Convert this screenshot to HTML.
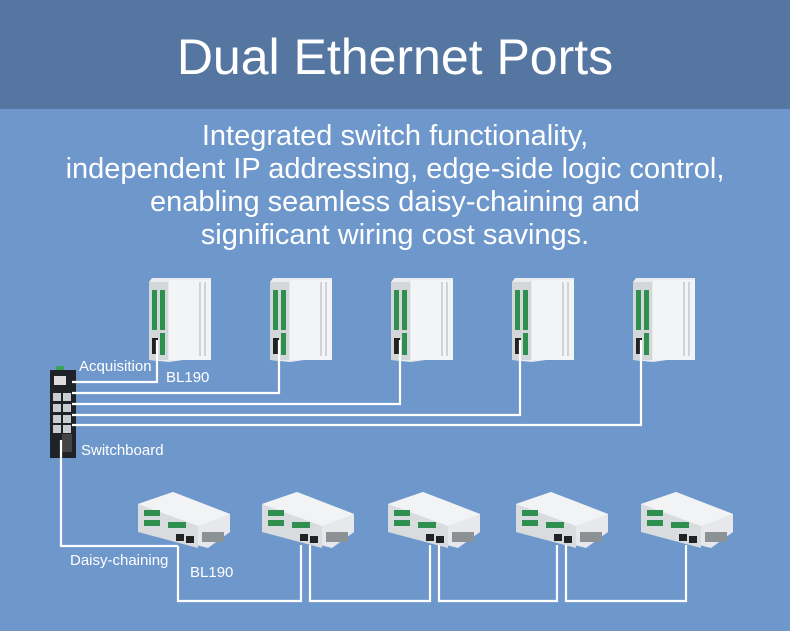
<!DOCTYPE html>
<html><head><meta charset="utf-8"><style>
html,body{margin:0;padding:0}
body{width:790px;height:631px;overflow:hidden;background:#6e97cc;position:relative;font-family:"Liberation Sans",sans-serif}
.hdr{position:absolute;left:0;top:0;width:790px;height:109px;background:#5676a2;color:#fff;font-size:50px;text-align:center;line-height:114px}
.sub{position:absolute;left:0;top:120px;width:790px;text-align:center;color:#fff;font-size:29px;line-height:33px}
.lb{position:absolute;color:#fff;font-size:15px}
svg{position:absolute;left:0;top:0}
</style></head><body>
<div class="hdr">Dual Ethernet Ports</div>
<div class="sub">Integrated switch functionality,<br>independent IP addressing, edge-side logic control,<br>enabling seamless daisy-chaining and<br>significant wiring cost savings.</div>
<svg width="790" height="631" viewBox="0 0 790 631">
<defs>
<g id="v">
<path d="M0 4 L3 0 L62 0 L62 78 L20 84 L0 82 Z" fill="#e9ebee"/>
<rect x="0" y="4" width="19" height="78" fill="#d4d7da"/>
<rect x="3" y="12" width="5" height="40" fill="#2f8f4f"/>
<rect x="11" y="12" width="5" height="40" fill="#2f8f4f"/>
<rect x="11" y="55" width="5" height="22" fill="#2f8f4f"/>
<rect x="3" y="60" width="6" height="16" fill="#222"/>
<rect x="20" y="2" width="42" height="80" fill="#f3f4f6"/>
<rect x="50" y="4" width="2" height="74" fill="#cfd2d6"/>
<rect x="55" y="4" width="2" height="74" fill="#cfd2d6"/>
</g>
<g id="h">
<path d="M0 12 L35 0 L92 22 L92 40 L70 56 L0 38 Z" fill="#e6e8eb"/>
<path d="M0 12 L35 0 L92 22 L60 34 Z" fill="#f2f3f5"/>
<path d="M0 12 L60 34 L60 56 L0 40 Z" fill="#d9dcdf"/>
<rect x="6" y="18" width="16" height="6" fill="#2f8f4f"/>
<rect x="6" y="28" width="16" height="6" fill="#2f8f4f"/>
<rect x="30" y="30" width="18" height="6" fill="#2f8f4f"/>
<rect x="38" y="42" width="8" height="7" fill="#222"/>
<rect x="48" y="44" width="8" height="7" fill="#222"/>
<rect x="64" y="40" width="22" height="10" fill="#8c9196"/>
</g>
</defs>
<use href="#v" x="149" y="278"/>
<use href="#v" x="270" y="278"/>
<use href="#v" x="391" y="278"/>
<use href="#v" x="512" y="278"/>
<use href="#v" x="633" y="278"/>
<use href="#h" x="138" y="492"/>
<use href="#h" x="262" y="492"/>
<use href="#h" x="388" y="492"/>
<use href="#h" x="516" y="492"/>
<use href="#h" x="641" y="492"/>
<rect x="56" y="366" width="8" height="5" fill="#3aa35a"/>
<rect x="50" y="370" width="26" height="88" fill="#1f2328"/>
<rect x="54" y="376" width="12" height="9" fill="#ddd"/>
<g fill="#c9ccd0"><rect x="53" y="393" width="8" height="8"/><rect x="63" y="393" width="8" height="8"/><rect x="53" y="404" width="8" height="8"/><rect x="63" y="404" width="8" height="8"/><rect x="53" y="415" width="8" height="8"/><rect x="63" y="415" width="8" height="8"/><rect x="53" y="425" width="8" height="8"/><rect x="63" y="425" width="8" height="8"/></g>
<rect x="62" y="434" width="10" height="18" fill="#444"/>
<g fill="none" stroke="#fff" stroke-width="2.2">
<polyline points="157,340 157,382 72,382"/>
<polyline points="279,340 279,393 72,393"/>
<polyline points="400,340 400,404 72,404"/>
<polyline points="520,340 520,415 72,415"/>
<polyline points="641,340 641,425 72,425"/>
<polyline points="61,440 61,546 178,546"/>
<polyline points="178,546 178,601 301,601 301,545"/>
<polyline points="310,545 310,601 430,601 430,545"/>
<polyline points="439,545 439,601 557,601 557,545"/>
<polyline points="566,545 566,601 686,601 686,545"/>
</g>
</svg>
<div class="lb" style="left:79px;top:358px">Acquisition</div>
<div class="lb" style="left:166px;top:369px">BL190</div>
<div class="lb" style="left:81px;top:442px">Switchboard</div>
<div class="lb" style="left:70px;top:552px">Daisy-chaining</div>
<div class="lb" style="left:190px;top:564px">BL190</div>
</body></html>
